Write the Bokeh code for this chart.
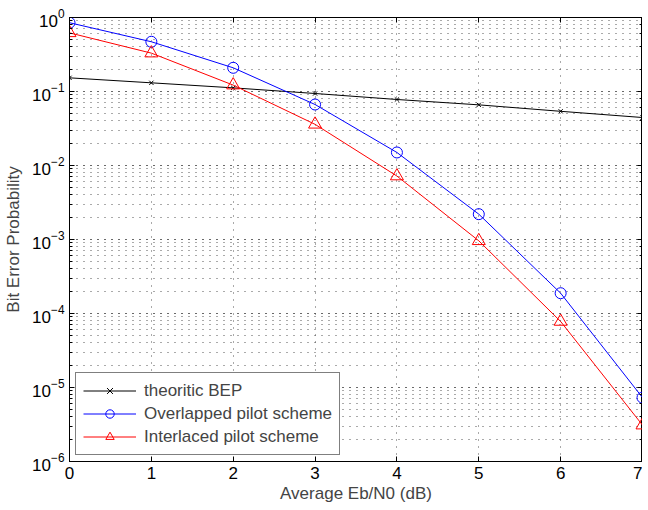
from bokeh.plotting import figure
from bokeh.models import LinearAxis, LogAxis, FixedTicker, Range1d, Legend, LegendItem, CustomJSTickFormatter
from bokeh.embed import file_html
from bokeh.resources import INLINE

ebn0 = [0, 1, 2, 3, 4, 5, 6, 7]
theoretic = [0.153, 0.131, 0.112, 0.094, 0.078, 0.066, 0.054, 0.0445]
overlapped = [0.85, 0.47, 0.209, 0.0667, 0.015, 0.0022, 1.88e-4, 7.3e-6]
interlaced = [0.62, 0.33, 0.122, 0.036, 0.0072, 0.00096, 7.8e-5, 3.1e-6]
x_ticks = [0, 1, 2, 3, 4, 5, 6, 7]

FONT = "Liberation Sans"

p = figure(frame_width=573, frame_height=444, y_axis_type="log",
           x_range=Range1d(0, 7), y_range=Range1d(1e-6, 1),
           output_backend="svg", toolbar_location=None,
           min_border_left=69, min_border_right=0, min_border_top=17, min_border_bottom=0)

p.outline_line_color = "black"
p.outline_line_width = 1

def style_axis(ax, labels=True):
    ax.axis_line_color = "black"
    ax.major_tick_in = 5
    ax.major_tick_out = 0
    ax.minor_tick_in = 3
    ax.minor_tick_out = 0
    ax.major_tick_line_color = "black"
    ax.minor_tick_line_color = "black"
    ax.major_label_text_font = FONT
    ax.major_label_text_color = "black"
    ax.major_label_text_font_size = "17px"
    if not labels:
        ax.formatter = CustomJSTickFormatter(code="return '';")
        ax.major_label_standoff = 0

xa = p.xaxis[0]
style_axis(xa)
xa.ticker = FixedTicker(ticks=x_ticks)
xa.minor_tick_line_color = None
xa.major_label_standoff = 5
xa.axis_label = "Average Eb/N0 (dB)"
xa.axis_label_text_font = FONT
xa.axis_label_text_font_size = "17px"
xa.axis_label_text_font_style = "normal"
xa.axis_label_standoff = 2

ya = p.yaxis[0]
style_axis(ya)
ya.major_label_standoff = 5
ya.axis_label = "Bit Error Probability"
ya.axis_label_text_font = FONT
ya.axis_label_text_font_size = "17px"
ya.axis_label_text_font_style = "normal"
ya.axis_label_standoff = 6

top = LinearAxis(ticker=FixedTicker(ticks=x_ticks))
style_axis(top, labels=False)
top.minor_tick_line_color = None
top.axis_line_color = None
p.add_layout(top, "above")

right = LogAxis()
style_axis(right, labels=False)
right.axis_line_color = None
p.add_layout(right, "right")

p.xgrid.ticker = FixedTicker(ticks=x_ticks)
p.xgrid.grid_line_color = "#555555"
p.xgrid.grid_line_dash = "1 6"
p.ygrid.grid_line_color = "#555555"
p.ygrid.grid_line_dash = "1 6"
p.ygrid.minor_grid_line_color = "#555555"
p.ygrid.minor_grid_line_dash = "1 6"

l1 = p.line(ebn0, theoretic, line_color="black", line_width=1)
m1 = p.scatter(ebn0, theoretic, marker="x", size=6, line_color="black", line_width=1)
l2 = p.line(ebn0, overlapped, line_color="#0000ff", line_width=1)
m2 = p.scatter(ebn0, overlapped, marker="circle", size=11, line_color="#0000ff",
               fill_color=None, line_width=1)
l3 = p.line(ebn0, interlaced, line_color="#ff0000", line_width=1)
m3 = p.scatter(ebn0, interlaced, marker="triangle", size=13, line_color="#ff0000",
               fill_color=None, line_width=1)

legend = Legend(items=[
    LegendItem(label="theoritic BEP", renderers=[l1, m1]),
    LegendItem(label="Overlapped pilot scheme", renderers=[l2, m2]),
    LegendItem(label="Interlaced pilot scheme", renderers=[l3, m3]),
], location="bottom_left")
legend.border_line_color = "black"
legend.border_line_width = 1
legend.background_fill_color = "white"
legend.background_fill_alpha = 1
legend.label_text_font = FONT
legend.label_text_font_size = "17px"
legend.glyph_width = 53
legend.glyph_height = 21
legend.label_height = 21
legend.label_standoff = 8
legend.spacing = 2
legend.padding = 7
legend.margin = 6
p.add_layout(legend, "center")

open("out.html", "w").write(file_html(p, INLINE))
